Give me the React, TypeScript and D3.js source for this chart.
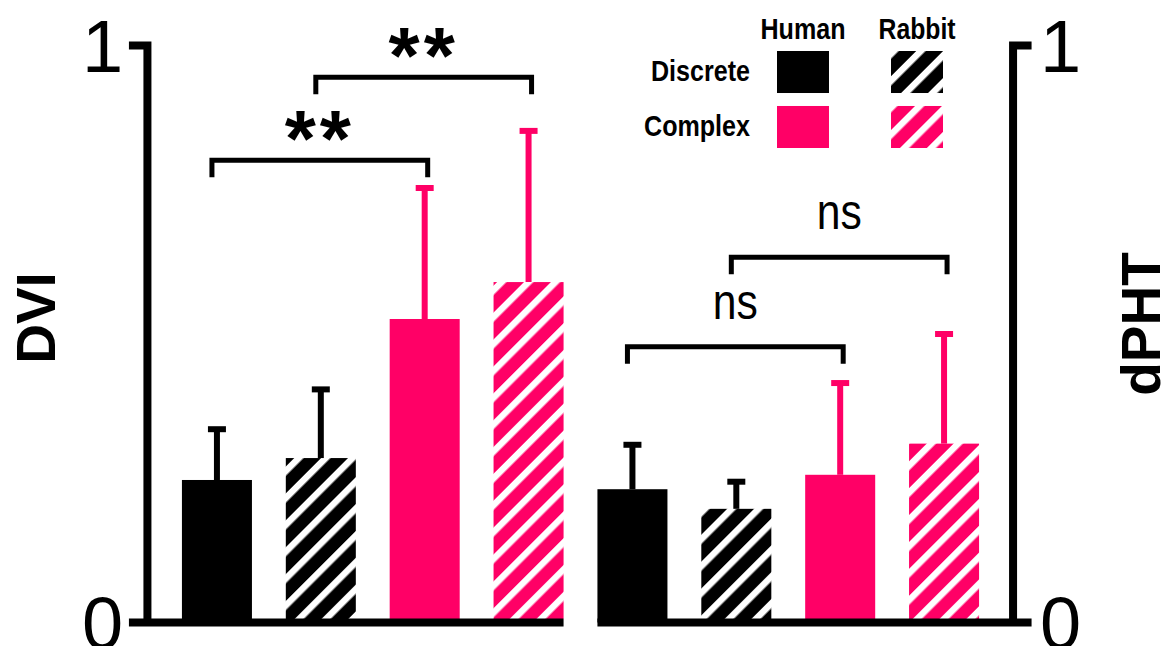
import * as d3 from "d3";
import React, { useEffect } from "react";

// bar groups, in drawing order inside each panel
const groups = ["Human Discrete", "Rabbit Discrete", "Human Complex", "Rabbit Complex"];
const species = ["Human", "Rabbit"];
const conditions = ["Discrete", "Complex"];
const panels = ["DVI", "dPHT"];

// means and upper error (SEM)
const dviMean = [0.247, 0.285, 0.526, 0.59];
const dviErr = [0.088, 0.119, 0.227, 0.262];
const dphtMean = [0.231, 0.197, 0.256, 0.31];
const dphtErr = [0.077, 0.047, 0.159, 0.19];

const yTicks = [0, 1];

// significance brackets: group index a vs b, bracket level in data units
const dviComparisons = [
  { a: 0, b: 2, level: 0.801, label: "**" },
  { a: 1, b: 3, level: 0.945, label: "**" },
];
const dphtComparisons = [
  { a: 0, b: 2, level: 0.478, label: "ns" },
  { a: 1, b: 3, level: 0.633, label: "ns" },
];

const FONT = "'Liberation Sans', Arial, Helvetica, sans-serif";

export default function App() {
  useEffect(() => {
    document.body.style.margin = "0";
  }, []);

  const W = 1168, H = 646;
  const keys = panels.flatMap(p => groups.map(g => `${p}|${g}`));
  const x = d3.scaleBand<string>().domain(keys).range([165, 996]).paddingInner(0.326).paddingOuter(0.163);
  const y = d3.scaleLinear().domain([0, 1]).range([622.5, 45.5]);
  const color = d3.scaleOrdinal<string, string>().domain(conditions).range(["#000000", "#ff0066"]);
  const bw = x.bandwidth();

  const rows = [
    ...groups.map((g, i) => ({ panel: "DVI", group: g, mean: dviMean[i], err: dviErr[i] })),
    ...groups.map((g, i) => ({ panel: "dPHT", group: g, mean: dphtMean[i], err: dphtErr[i] })),
  ];

  const fillFor = (g: string) => {
    const [sp, cond] = g.split(" ");
    return sp === "Rabbit" ? `url(#hatch-${cond})` : color(cond);
  };
  const cx = (p: string, g: string) => x(`${p}|${g}`)! + bw / 2;

  const tick = 18.5;
  const leftAxisX = x(keys[0])! - 34.5;
  const rightAxisX = x(keys[keys.length - 1])! + bw + 34;
  const axisW = 8;

  const brackets = [
    ...dviComparisons.map(c => ({ ...c, panel: "DVI" })),
    ...dphtComparisons.map(c => ({ ...c, panel: "dPHT" })),
  ];

  // legend layout
  const legX = d3.scaleBand<string>().domain(species).range([777, 943]).paddingInner(0.544);
  const legY = d3.scaleBand<string>().domain(conditions).range([51, 148]).paddingInner(0.236);

  return (
    <div style={{ position: "absolute", left: 0, top: 0 }}>
      <svg width={W} height={H} style={{ display: "block", background: "#fff" }}>
        <defs>
          {conditions.map(c => (
            <pattern key={c} id={`hatch-${c}`} width={19} height={19} patternUnits="userSpaceOnUse" patternTransform="rotate(45)">
              <rect width={19} height={19} fill={color(c)} />
              <rect width={6.5} height={19} fill="#fff" />
            </pattern>
          ))}
        </defs>

        {/* bars */}
        {rows.map(r => (
          <rect key={`${r.panel}-${r.group}`} x={x(`${r.panel}|${r.group}`)} y={y(r.mean)} width={bw} height={y(0) - y(r.mean)} fill={fillFor(r.group)} />
        ))}

        {/* error bars */}
        {rows.map(r => {
          const c = cx(r.panel, r.group);
          const col = color(r.group.split(" ")[1]);
          return (
            <g key={`e-${r.panel}-${r.group}`} stroke={col} strokeWidth={6}>
              <line x1={c} x2={c} y1={y(r.mean)} y2={y(r.mean + r.err)} />
              <line x1={c - 9} x2={c + 9} y1={y(r.mean + r.err)} y2={y(r.mean + r.err)} />
            </g>
          );
        })}

        {/* axes */}
        <g fill="none" stroke="#000" strokeWidth={axisW} strokeLinejoin="miter">
          <path d={`M${leftAxisX - tick},${y(1)}H${leftAxisX}V${y(0)}`} />
          <path d={`M${leftAxisX - tick},${y(0)}H${x(keys[3])! + bw}`} />
          <path d={`M${rightAxisX + tick},${y(1)}H${rightAxisX}V${y(0)}`} />
          <path d={`M${x(keys[4])!},${y(0)}H${rightAxisX + tick}`} />
        </g>

        {yTicks.map(t => (
          <g key={`t-${t}`} fontFamily={FONT} fontSize={74} fill="#000">
            <text x={82} y={y(t) + 26}>{t}</text>
            <text x={1040} y={y(t) + 26}>{t}</text>
          </g>
        ))}

        <text transform={`translate(55,318) rotate(-90)`} textAnchor="middle" fontFamily={FONT} fontWeight="bold" fontSize={55}>DVI</text>
        <text transform={`translate(1160,324) rotate(-90)`} textAnchor="middle" fontFamily={FONT} fontWeight="bold" fontSize={55}>dPHT</text>

        {/* significance brackets */}
        {brackets.map((b, i) => {
          const x1 = cx(b.panel, groups[b.a]) - 5;
          const x2 = cx(b.panel, groups[b.b]) + 3;
          const yb = y(b.level);
          const leg = 17;
          const mid = (x1 + x2) / 2;
          return (
            <g key={`b-${i}`}>
              <path d={`M${x1},${yb + leg}V${yb}H${x2}V${yb + leg}`} fill="none" stroke="#000" strokeWidth={5} strokeLinejoin="miter" />
              {b.label === "**" ? (
                <text x={mid} y={yb + 6} textAnchor="middle" fontFamily={FONT} fontWeight="bold" fontSize={80} letterSpacing={4}>{b.label}</text>
              ) : (
                <text x={mid} y={yb - 28} textAnchor="middle" fontFamily={FONT} fontSize={50} textLength={45} lengthAdjust="spacingAndGlyphs">{b.label}</text>
              )}
            </g>
          );
        })}

        {/* legend */}
        <g fontFamily={FONT} fontWeight="bold" fontSize={30}>
          {species.map((s, i) => (
            <text key={s} x={legX(s)! + legX.bandwidth() / 2} y={39} textAnchor="middle" textLength={[85, 77][i]} lengthAdjust="spacingAndGlyphs">{s}</text>
          ))}
          {conditions.map((c, i) => (
            <text key={c} x={750} y={legY(c)! + legY.bandwidth() / 2 + 9} textAnchor="end" textLength={[99, 106][i]} lengthAdjust="spacingAndGlyphs">{c}</text>
          ))}
          {conditions.map(c => species.map(s => (
            <rect key={`${c}-${s}`} x={legX(s)} y={legY(c)} width={legX.bandwidth()} height={legY.bandwidth()} fill={fillFor(`${s} ${c}`)} />
          )))}
        </g>
      </svg>
    </div>
  );
}
